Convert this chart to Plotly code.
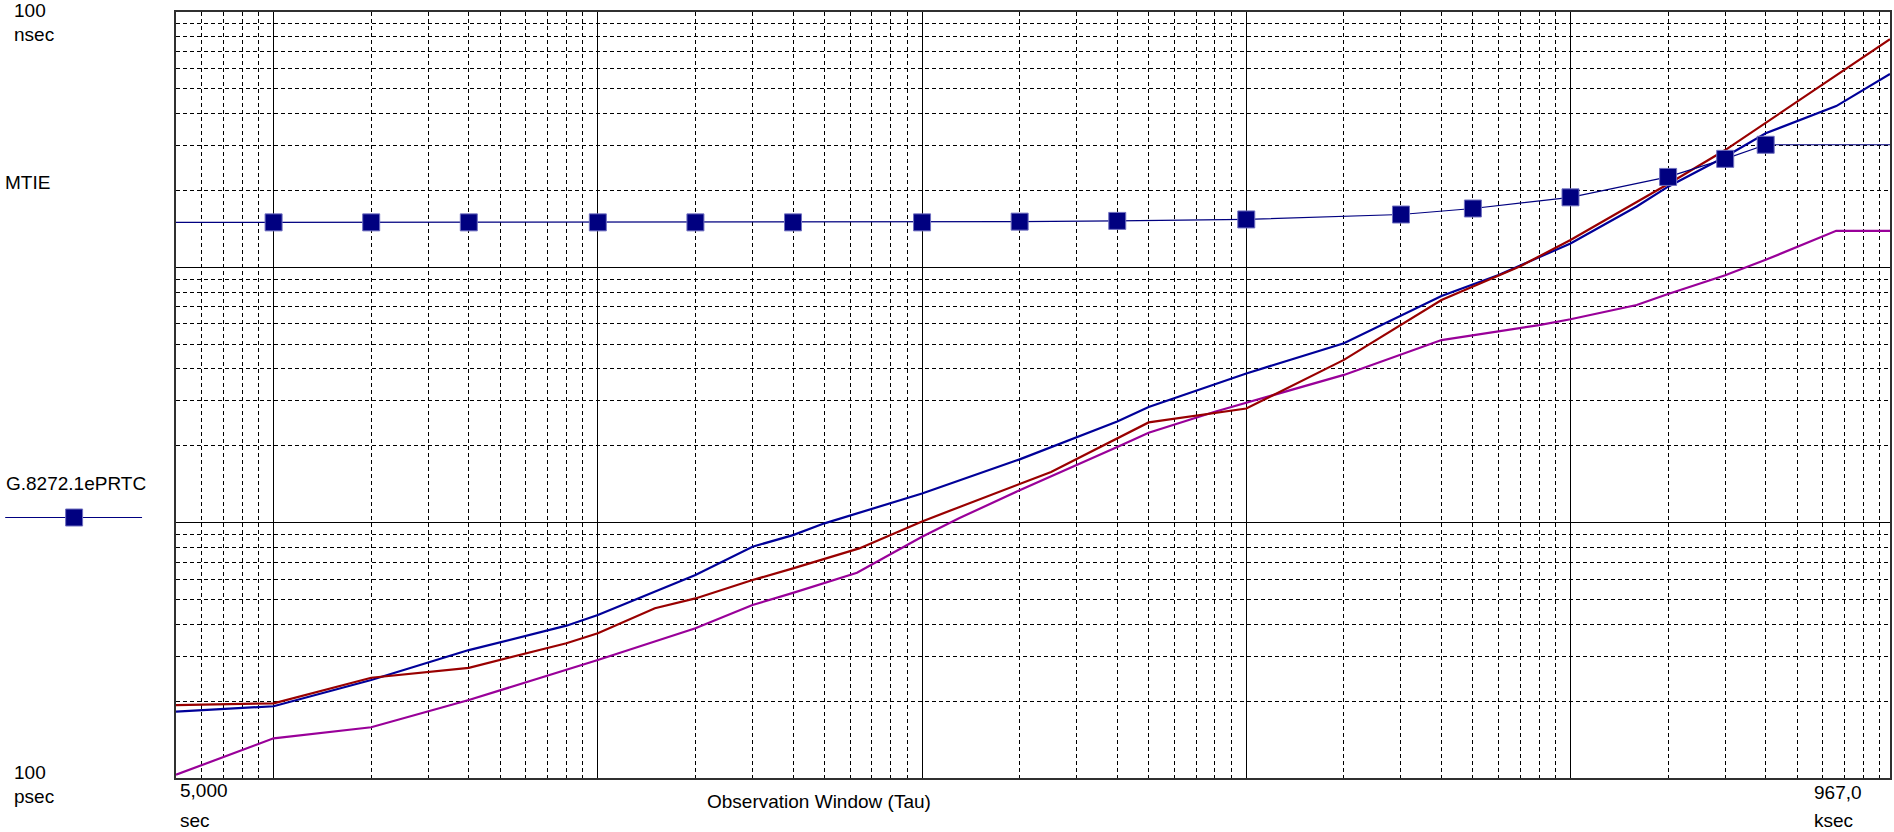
import math
import plotly.graph_objects as go

# ---------------- data (tau in seconds, MTIE in ns) ----------------
BLUE_TAU = [5, 10, 20, 40, 80, 100, 200, 300, 400, 500, 1000, 2000, 4000, 5000,
            10000, 20000, 40000, 60000, 100000, 160000, 200000, 300000, 400000,
            660000, 967000]
BLUE_NS = [0.182, 0.191, 0.242, 0.317, 0.395, 0.435, 0.624, 0.805, 0.894, 0.994,
           1.30, 1.77, 2.49, 2.84, 3.84, 5.04, 7.72, 9.33, 12.4, 17.3, 20.7,
           27.1, 33.5, 42.8, 57.2]

RED_TAU = [5, 10, 20, 40, 80, 100, 150, 200, 300, 400, 640, 1000, 1300, 2500,
           5000, 10000, 20000, 40000, 70000, 100000, 200000, 300000, 967000]
RED_NS = [0.193, 0.196, 0.247, 0.270, 0.337, 0.369, 0.462, 0.505, 0.596, 0.662,
          0.793, 1.01, 1.15, 1.58, 2.47, 2.80, 4.34, 7.45, 10.1, 12.8, 21.2,
          28.8, 78.2]

PURPLE_TAU = [5, 10, 20, 40, 100, 150, 200, 300, 400, 630, 1000, 1300, 2000,
              4000, 5000, 8000, 10000, 20000, 40000, 80000, 100000, 160000,
              200000, 300000, 400000, 660000, 967000]
PURPLE_NS = [0.103, 0.143, 0.158, 0.202, 0.290, 0.342, 0.386, 0.476, 0.531,
             0.637, 0.881, 1.04, 1.34, 1.98, 2.25, 2.72, 2.95, 3.79, 5.19, 5.94,
             6.26, 7.12, 7.86, 9.31, 10.7, 13.9, 13.9]

MASK_NAME = "G.8272.1ePRTC"
MASK_TAU = [5, 10, 20, 40, 100, 200, 400, 1000, 2000, 4000, 10000, 30000, 50000,
            100000, 200000, 300000, 400000, 967000]
MASK_NS = [15.0, 15.0, 15.0, 15.0, 15.0, 15.0, 15.0, 15.0, 15.1, 15.2, 15.4,
           16.1, 17.0, 18.8, 22.6, 26.6, 30.2, 30.2]

X_MIN, X_MAX = 5, 967000
Y_MIN, Y_MAX = 0.1, 100
X_MAJOR = [10, 100, 1000, 10000, 100000]
Y_MAJOR = [1, 10]

# ---------------- figure ----------------
W, H = 1894, 832
ML, MR, MT, MB = 176, 2, 12, 54
PW, PH = W - ML - MR, H - MT - MB


def px(x):
    return (x - ML) / PW


def py(y):
    return 1 - (y - MT) / PH


x_minor = [m * 10 ** e for e in range(0, 6) for m in range(2, 10)
           if X_MIN < m * 10 ** e < X_MAX]
y_minor = [m * 10 ** e for e in range(-1, 2) for m in range(2, 10)]

BLUE_C = "#000099"
RED_C = "#990000"
PURPLE_C = "#990099"
NAVY = "#000080"

fig = go.Figure()
fig.add_trace(go.Scatter(x=PURPLE_TAU, y=PURPLE_NS, mode="lines",
                         line=dict(color=PURPLE_C, width=2.2)))
fig.add_trace(go.Scatter(x=BLUE_TAU, y=BLUE_NS, mode="lines",
                         line=dict(color=BLUE_C, width=2.2)))
fig.add_trace(go.Scatter(x=RED_TAU, y=RED_NS, mode="lines",
                         line=dict(color=RED_C, width=2.2)))
fig.add_trace(go.Scatter(x=MASK_TAU, y=MASK_NS, mode="lines", name=MASK_NAME,
                         line=dict(color=NAVY, width=1.2)))
fig.add_trace(go.Scatter(x=MASK_TAU[1:-1], y=MASK_NS[1:-1], mode="markers",
                         marker=dict(symbol="square", size=17, color=NAVY,
                                     line=dict(color="#7070c0", width=1))))

grid_common = dict(type="log", showticklabels=False, ticks="", showgrid=True,
                   gridcolor="black", gridwidth=1, zeroline=False,
                   showline=True, linecolor="#303030", linewidth=2, mirror=True)

fig.update_xaxes(range=[math.log10(X_MIN), math.log10(X_MAX)],
                 tickmode="array", tickvals=X_MAJOR,
                 minor=dict(tickmode="array", tickvals=x_minor, showgrid=True,
                            gridcolor="black", gridwidth=1, griddash="4px,3px"),
                 **grid_common)
fig.update_yaxes(range=[math.log10(Y_MIN), math.log10(Y_MAX)],
                 tickmode="array", tickvals=Y_MAJOR,
                 minor=dict(tickmode="array", tickvals=y_minor, showgrid=True,
                            gridcolor="black", gridwidth=1, griddash="4px,3px"),
                 **grid_common)

FONT = dict(family="Liberation Sans, Arial, sans-serif", size=19, color="black")


def label(text, x, y, xanchor="left"):
    fig.add_annotation(text=text, x=px(x), y=py(y), xref="paper", yref="paper",
                       xanchor=xanchor, yanchor="middle", showarrow=False,
                       font=FONT)


label("100", 12, 11)
label("nsec", 12, 34)
label("MTIE", 3, 183)
label(MASK_NAME, 4, 483)
label("100", 12, 772)
label("psec", 12, 796)
label("5,000", 178, 791)
label("sec", 178, 820)
label("Observation Window (Tau)", 820, 801, "center")
label("967,0", 1814, 792)
label("ksec", 1814, 820)

# legend swatch for the mask
fig.add_shape(type="line", xref="paper", yref="paper",
              x0=px(5), x1=px(142), y0=py(517.5), y1=py(517.5),
              line=dict(color=NAVY, width=1.2))
fig.add_shape(type="rect", xref="paper", yref="paper",
              x0=px(65.5), x1=px(82.5), y0=py(509), y1=py(526),
              line=dict(color="#7070c0", width=1), fillcolor=NAVY)

fig.update_layout(width=W, height=H, showlegend=False,
                  margin=dict(l=ML, r=MR, t=MT, b=MB),
                  paper_bgcolor="white", plot_bgcolor="white", font=FONT)

fig.write_html("out.html", config={"displayModeBar": False},
               post_script="document.body.style.margin='0';"
                           "document.body.style.padding='0';"
                           "document.body.style.overflow='hidden';")
